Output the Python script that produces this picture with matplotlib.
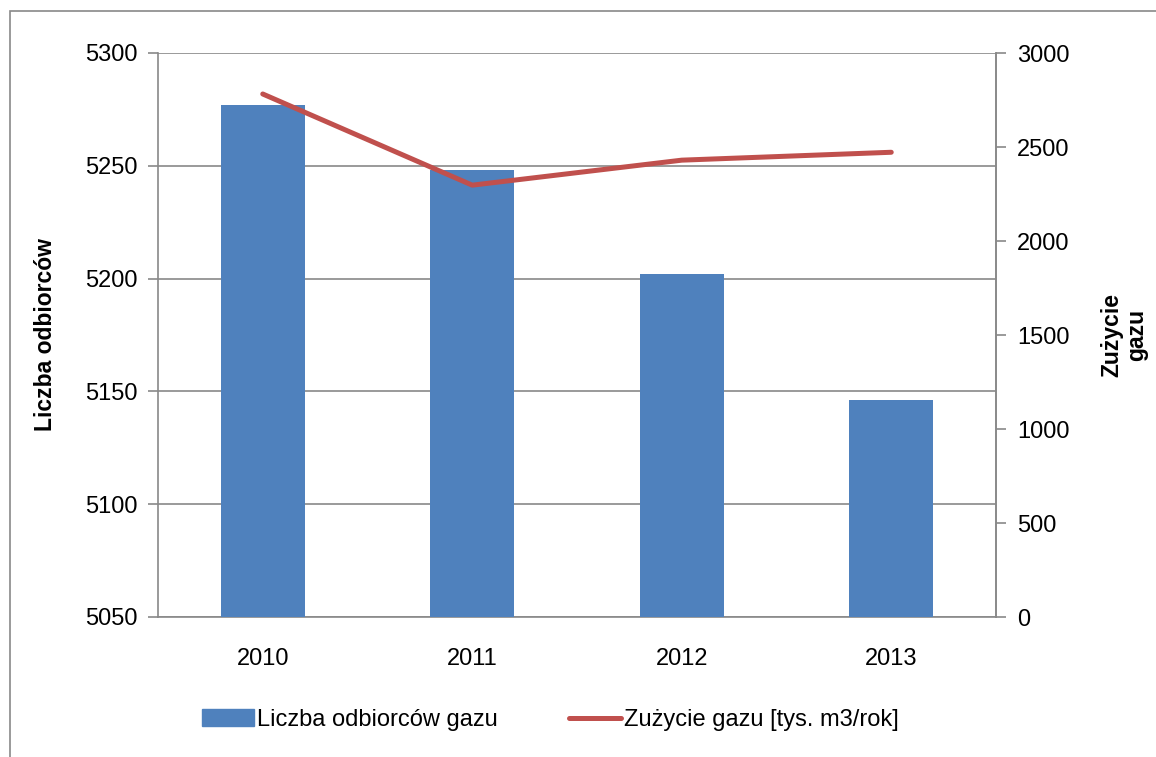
import matplotlib
matplotlib.use("Agg")
import matplotlib.pyplot as plt
from matplotlib.patches import Rectangle
from matplotlib.lines import Line2D
from matplotlib.patches import Patch

# data
years = ["2010", "2011", "2012", "2013"]
odbiorcy = [5277, 5248, 5202, 5146]          # left axis, bars
zuzycie = [2782, 2297, 2430, 2472]           # right axis, line
left_ticks = [5050, 5100, 5150, 5200, 5250, 5300]
right_ticks = [0, 500, 1000, 1500, 2000, 2500, 3000]

plt.rcParams["font.family"] = ["Liberation Sans", "DejaVu Sans"]
BLUE = "#4F81BD"
RED = "#C0504D"
GREY = "#898989"
FS = 17

fig = plt.figure(figsize=(11.56, 7.57), dpi=100)
ax = fig.add_axes([158 / 1156, 1 - 617 / 757, 838 / 1156, 564 / 757])

# outer chart border
fig.patches.append(Rectangle((10 / 1156, -0.1), 1.2, 1 - 11 / 757 + 0.1,
                             transform=fig.transFigure, fill=False,
                             edgecolor=GREY, lw=1.2))

x = range(len(years))
ax.bar(x, odbiorcy, width=0.4, color=BLUE, zorder=3)
ax.set_ylim(5050, 5300)
ax.set_xlim(-0.5, 3.5)
ax.set_yticks(left_ticks)
ax.set_xticks(list(x))
ax.set_xticklabels(years)
ax.yaxis.grid(True, color=GREY, lw=1.2, zorder=0)
ax.tick_params(axis="y", labelsize=FS, length=7, color=GREY, width=1.2, pad=8)
ax.tick_params(axis="x", labelsize=FS, length=0, pad=22)
for s in ["left", "bottom", "right"]:
    ax.spines[s].set_color(GREY)
    ax.spines[s].set_linewidth(1.2)
ax.spines["top"].set_visible(False)
ax.set_ylabel("Liczba odbiorców", fontsize=16.5, fontweight="bold", labelpad=20)

ax2 = ax.twinx()
ax2.plot(x, zuzycie, color=RED, lw=3.6, solid_capstyle="round", zorder=4)
ax2.set_ylim(0, 3000)
ax2.set_yticks(right_ticks)
ax2.tick_params(axis="y", labelsize=FS, length=7, color=GREY, width=1.2, pad=8)
for s in ["left", "bottom", "right", "top"]:
    ax2.spines[s].set_visible(False)
ax2.spines["right"].set_visible(True)
ax2.spines["right"].set_color(GREY)
ax2.spines["right"].set_linewidth(1.2)
ax2.set_ylabel("Zużycie\ngazu", fontsize=16.5, fontweight="bold", labelpad=22,
               rotation=90, linespacing=1.15)

handles = [Patch(color=BLUE), Line2D([0], [0], color=RED, lw=3.6, solid_capstyle="round")]
fig.legend(handles, ["Liczba odbiorców gazu", "Zużycie gazu [tys. m3/rok]"],
           loc="center", bbox_to_anchor=(0.476, 0.049), ncol=2, frameon=False,
           fontsize=FS, handlelength=2.2, handletextpad=0.15, columnspacing=3.0)

fig.savefig("out.png", dpi=100)
